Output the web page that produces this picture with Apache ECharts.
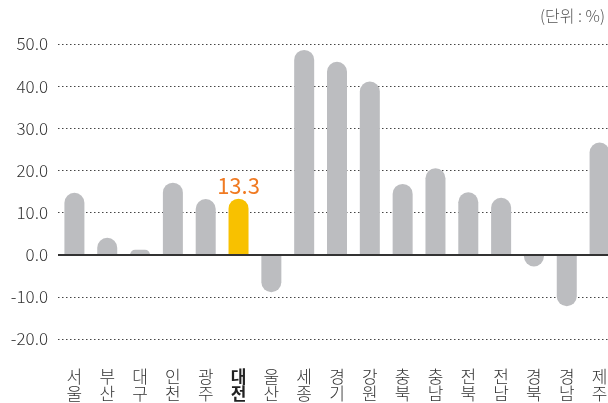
<!DOCTYPE html>
<html>
<head>
<meta charset="utf-8">
<script src="https://cdn.jsdelivr.net/npm/echarts@6/dist/echarts.min.js"></script>
<style>
  html, body { margin: 0; padding: 0; background: #fff; overflow: hidden; }
  #chart { width: 616px; height: 403px; }
</style>
</head>
<body>
<div id="chart"></div>
<script>
// 지역
var regions = ['서울', '부산', '대구', '인천', '광주', '대전', '울산', '세종', '경기', '강원', '충북', '충남', '전북', '전남', '경북', '경남', '제주'];
// 증감률 (%)
var rates = [14.7, 4.0, 1.2, 17.1, 13.2, 13.3, -8.9, 48.6, 45.8, 41.1, 16.8, 20.5, 14.8, 13.5, -2.8, -12.2, 26.6];
var highlight = '대전';

var grey = '#bcbdc0';
var yellow = '#f8c100';
var font = '"Noto Sans CJK KR", "Noto Sans", sans-serif';

var barData = rates.map(function (v, i) {
    var item = {
        value: v,
        itemStyle: {
            color: regions[i] === highlight ? yellow : grey,
            borderRadius: v >= 0 ? [10, 10, 0, 0] : [0, 0, 10, 10]
        }
    };
    if (regions[i] === highlight) {
        item.label = {
            show: true,
            position: 'top',
            distance: 2,
            color: '#f07a22',
            fontSize: 22,
            fontFamily: font,
            formatter: function (p) { return p.value.toFixed(1); }
        };
    }
    return item;
});

var myChart = echarts.init(document.getElementById('chart'));
var option = {
    animation: false,
    textStyle: { fontFamily: font },
    graphic: [{
        type: 'text',
        right: 11,
        top: 8,
        style: { text: '(단위 : %)', fontSize: 16, fill: '#555', fontFamily: font, fontWeight: 300 }
    }],
    grid: { left: 58, right: 0, top: 44, height: 295 },
    xAxis: {
        type: 'category',
        data: regions,
        axisLine: { show: false },
        axisTick: { show: false },
        axisLabel: {
            interval: 0,
            margin: 29,
            fontSize: 17,
            lineHeight: 17,
            color: '#333',
            fontWeight: 300,
            formatter: function (v) {
                var s = v.split('').join('\n');
                return v === highlight ? '{b|' + s + '}' : s;
            },
            rich: {
                b: { fontSize: 17, lineHeight: 17, fontWeight: 'bold', color: '#222' }
            }
        }
    },
    yAxis: {
        type: 'value',
        min: -20,
        max: 50,
        interval: 10,
        axisLine: { show: false },
        axisTick: { show: false },
        axisLabel: {
            margin: 10,
            fontSize: 17,
            color: '#333',
            fontWeight: 300,
            formatter: function (v) { return v.toFixed(1); }
        },
        splitLine: {
            lineStyle: { type: [1.5, 2.5], color: '#444', width: 1 }
        }
    },
    series: [{
        type: 'bar',
        data: barData,
        barWidth: 20,
        markLine: {
            silent: true,
            symbol: 'none',
            label: { show: false },
            lineStyle: { type: 'solid', color: '#333', width: 2 },
            data: [{ yAxis: 0 }]
        }
    }]
};
myChart.setOption(option, true);
</script>
</body>
</html>
